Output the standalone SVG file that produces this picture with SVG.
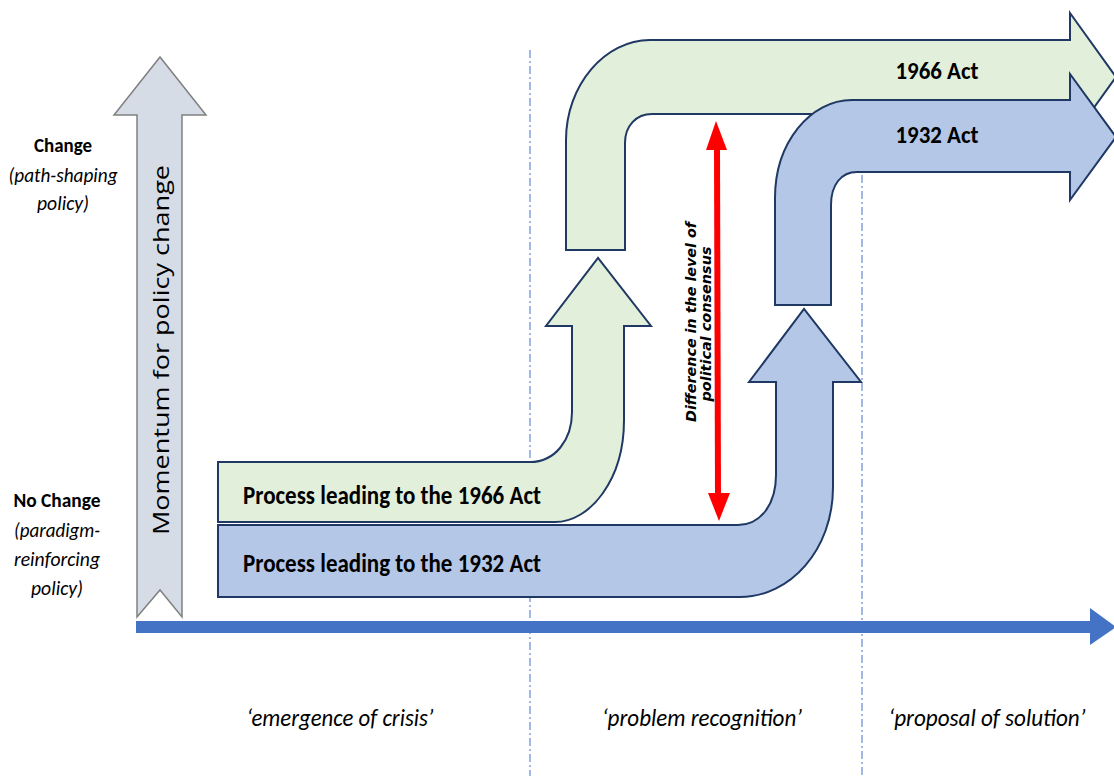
<svg xmlns="http://www.w3.org/2000/svg" width="1114" height="776" viewBox="0 0 1114 776">
<style>
.lbl{font-family:Carlito,"Liberation Sans",sans-serif;fill:#000}
.b{font-weight:bold}
.i{font-style:italic}
.green{fill:#e2efda;stroke:#1f3864;stroke-width:2;stroke-linejoin:miter}
.blue{fill:#b4c7e7;stroke:#1f3864;stroke-width:2;stroke-linejoin:miter}
.dash{stroke:#4472c4;stroke-width:1;stroke-dasharray:8 3 2 3;fill:none}
</style>
<rect width="1114" height="776" fill="#ffffff"/>
<g id="guides">
<line class="dash" x1="530" y1="50" x2="530" y2="776"/>
<line class="dash" x1="862" y1="175" x2="862" y2="776"/>
</g>
<g id="momentum-axis">
<path d="M137,617 L137,115 L114,115 L160,57 L206,115 L182,115 L182,617 L160,590 Z" fill="#d6dce5" stroke="#808080" stroke-width="1.5"/>
<text class="lbl" transform="translate(169,350) rotate(-90)" text-anchor="middle" font-size="22" textLength="370" lengthAdjust="spacingAndGlyphs" style="font-family:'Open Sans','Liberation Sans',sans-serif">Momentum for policy change</text>
</g>
<g id="time-axis">
<path d="M136,621 L1090,621 L1090,608 L1116,627 L1090,645 L1090,633 L136,633 Z" fill="#4472c4"/>
</g>
<g id="left-labels">
<text class="lbl b" x="63" y="152" font-size="21" text-anchor="middle" textLength="58" lengthAdjust="spacingAndGlyphs">Change</text>
<text class="lbl i" x="63" y="182" font-size="21" text-anchor="middle" textLength="109" lengthAdjust="spacingAndGlyphs">(path-shaping</text>
<text class="lbl i" x="63" y="210" font-size="21" text-anchor="middle" textLength="52" lengthAdjust="spacingAndGlyphs">policy)</text>
<text class="lbl b" x="57" y="507" font-size="21" text-anchor="middle" textLength="87" lengthAdjust="spacingAndGlyphs">No Change</text>
<text class="lbl i" x="57" y="537" font-size="21" text-anchor="middle" textLength="86" lengthAdjust="spacingAndGlyphs">(paradigm-</text>
<text class="lbl i" x="57" y="566" font-size="21" text-anchor="middle" textLength="86" lengthAdjust="spacingAndGlyphs">reinforcing</text>
<text class="lbl i" x="57" y="595" font-size="21" text-anchor="middle" textLength="52" lengthAdjust="spacingAndGlyphs">policy)</text>
</g>
<g id="act1966">
<path class="green" d="M566,250 L566,140 C566,85 605,40 650,40 L1070,40 L1070,13 L1116,77 L1070,141 L1070,114 L652,114 C636,114 625,126 625,143 L625,250 Z"/>
<text class="lbl b" x="937" y="79" font-size="25" text-anchor="middle" textLength="83" lengthAdjust="spacingAndGlyphs">1966 Act</text>
</g>
<g id="act1932">
<path class="blue" d="M775,305 L775,198 C775,143 810,100 852,100 L1070,100 L1070,74 L1116,137 L1070,200 L1070,172 L857,172 C841,172 831,185 831,205 L831,305 Z"/>
<text class="lbl b" x="937" y="143" font-size="25" text-anchor="middle" textLength="83" lengthAdjust="spacingAndGlyphs">1932 Act</text>
</g>
<g id="process1966">
<path class="green" d="M218,462 L530,462 C555,462 572,440 572,412 L572,326 L546,326 L598,258 L651,326 L624,326 L624,420 C624,480 590,522 555,522 L218,522 Z"/>
<text class="lbl b" x="243" y="504" font-size="27" textLength="298" lengthAdjust="spacingAndGlyphs">Process leading to the 1966 Act</text>
</g>
<g id="process1932">
<path class="blue" d="M218,525 L738,525 C760,525 776,505 776,475 L776,382 L749,382 L804,309 L861,382 L833,382 L833,487 C833,550 790,597 740,597 L218,597 Z"/>
<text class="lbl b" x="243" y="572" font-size="27" textLength="298" lengthAdjust="spacingAndGlyphs">Process leading to the 1932 Act</text>
</g>
<g id="consensus-gap">
<line x1="717" y1="148" x2="718" y2="495" stroke="#ff0000" stroke-width="6"/>
<path d="M716,121 L727,150 L706,150 Z" fill="#ff0000"/>
<path d="M719,521 L708,493 L730,493 Z" fill="#ff0000"/>
<text transform="translate(696,322) rotate(-90)" text-anchor="middle" font-size="13.5" font-weight="bold" font-style="italic" font-family="'DejaVu Sans',Verdana,sans-serif" textLength="200" lengthAdjust="spacingAndGlyphs">Difference in the level of</text>
<text transform="translate(711,324) rotate(-90)" text-anchor="middle" font-size="13.5" font-weight="bold" font-style="italic" font-family="'DejaVu Sans',Verdana,sans-serif" textLength="155" lengthAdjust="spacingAndGlyphs">political consensus</text>
</g>
<g id="phase-labels">
<text class="lbl i" x="340" y="726" font-size="25" text-anchor="middle" textLength="187" lengthAdjust="spacingAndGlyphs">‘emergence of crisis’</text>
<text class="lbl i" x="702" y="726" font-size="25" text-anchor="middle" textLength="200" lengthAdjust="spacingAndGlyphs">‘problem recognition’</text>
<text class="lbl i" x="987" y="726" font-size="25" text-anchor="middle" textLength="197" lengthAdjust="spacingAndGlyphs">‘proposal of solution’</text>
</g>
</svg>
